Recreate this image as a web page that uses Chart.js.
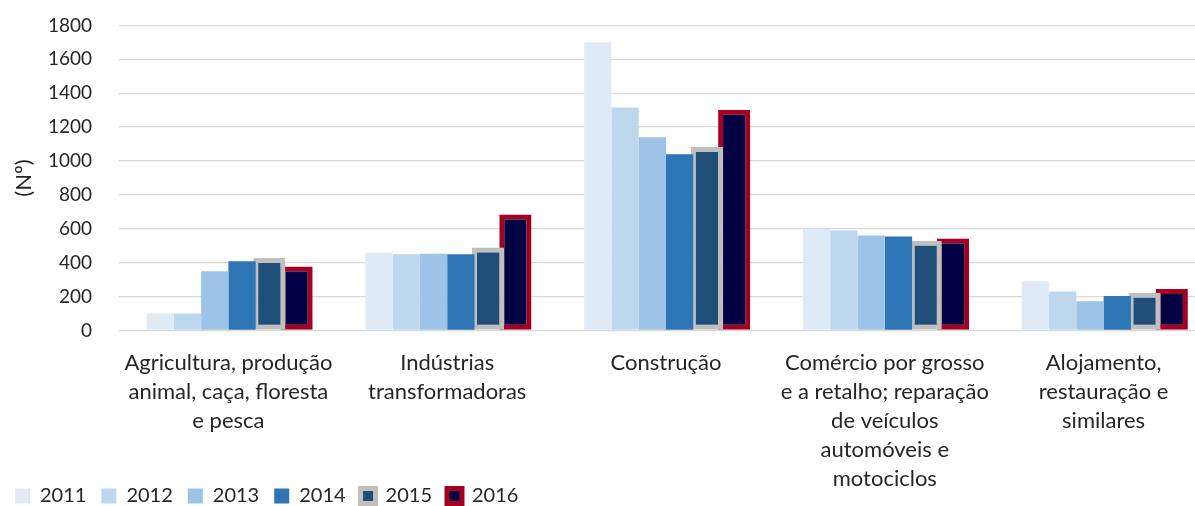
<!DOCTYPE html>
<html lang="pt">
  <head>
    <meta charset="UTF-8" />
    <title>Empresas por sector (Nº)</title>
    <style>
      html,
      body {
        margin: 0;
        padding: 0;
        overflow: hidden;
        background: #ffffff;
      }
      #chart {
        display: block;
        margin-top: -13px;
      }
    </style>
  </head>
  <body>
    <canvas id="chart" width="1213" height="529"></canvas>
  </body>
  <script src="https://cdn.jsdelivr.net/npm/chart.js@4"></script>
  <script>
    // categorias (linhas quebradas como no original)
    const categories = [
      ["Agricultura, produção", "animal, caça, floresta", "e pesca"],
      ["Indústrias", "transformadoras"],
      ["Construção"],
      ["Comércio por grosso", "e a retalho; reparação", "de veículos", "automóveis e", "motociclos"],
      ["Alojamento,", "restauração e", "similares"],
    ];
    const years = ["2011", "2012", "2013", "2014", "2015", "2016"];

    const v2011 = [100, 460, 1700, 600, 290];
    const v2012 = [100, 450, 1315, 590, 230];
    const v2013 = [350, 453, 1140, 560, 172];
    const v2014 = [408, 450, 1040, 555, 204];
    const v2015 = [427, 489, 1082, 529, 222];
    const v2016 = [378, 685, 1303, 543, 245];

    const yTicks = [0, 200, 400, 600, 800, 1000, 1200, 1400, 1600, 1800];

    const textColor = "#262626";
    const font = { family: "Lato", size: 19 };

    // os rótulos do eixo x descem para a zona da legenda (como no original)
    const unclipLabels = {
      id: "unclipLabels",
      afterLayout: (chart) => {
        chart.scales.x.bottom = chart.height;
      },
    };

    const ctx = document.getElementById("chart");
    window.chart = new Chart(ctx, {
      type: "bar",
      plugins: [unclipLabels],
      data: {
        labels: categories,
        datasets: [
          { label: years[0], data: v2011, backgroundColor: "#deebf7", borderWidth: 0 },
          { label: years[1], data: v2012, backgroundColor: "#bdd7ee", borderWidth: 0 },
          { label: years[2], data: v2013, backgroundColor: "#9dc3e6", borderWidth: 0 },
          { label: years[3], data: v2014, backgroundColor: "#2e75b6", borderWidth: 0 },
          {
            label: years[4],
            data: v2015,
            backgroundColor: "#1f4e79",
            borderColor: "#bfbfbf",
            borderWidth: 5,
            borderSkipped: false,
            barPercentage: 1.18,
          },
          {
            label: years[5],
            data: v2016,
            backgroundColor: "#000042",
            borderColor: "#a50021",
            borderWidth: 5,
            borderSkipped: false,
            barPercentage: 1.18,
          },
        ],
      },
      options: {
        responsive: false,
        animation: false,
        layout: { padding: { top: 12, right: 0, bottom: 0, left: 0 } },
        datasets: {
          bar: { categoryPercentage: 0.748, barPercentage: 1 },
        },
        plugins: {
          tooltip: { enabled: false },
          legend: {
            position: "bottom",
            align: "start",
            labels: {
              color: textColor,
              font: { family: "Lato", size: 20 },
              boxWidth: 15,
              boxHeight: 15,
              padding: 15,
            },
          },
        },
        scales: {
          x: {
            grid: { display: false },
            border: { display: false },
            ticks: {
              color: textColor,
              font: { family: "Lato", size: 22, lineHeight: 1.32 },
              maxRotation: 0,
              autoSkip: false,
              padding: 10,
            },
            afterFit: (scale) => {
              scale.height = 140.5;
            },
          },
          y: {
            min: 0,
            max: 1800,
            afterBuildTicks: (scale) => {
              scale.ticks = yTicks.map((v) => ({ value: v }));
            },
            grid: { color: "#d9d9d9", lineWidth: 1.3, drawTicks: false },
            border: { display: false },
            ticks: {
              color: textColor,
              font: font,
              padding: 27,
              callback: (v) => String(v),
            },
            title: {
              display: true,
              text: "(Nº)",
              color: textColor,
              font: { family: "Lato", size: 22 },
              padding: { top: 11, bottom: 0 },
            },
            afterFit: (scale) => {
              scale.width = 119;
            },
          },
        },
      },
    });
  </script>
</html>
